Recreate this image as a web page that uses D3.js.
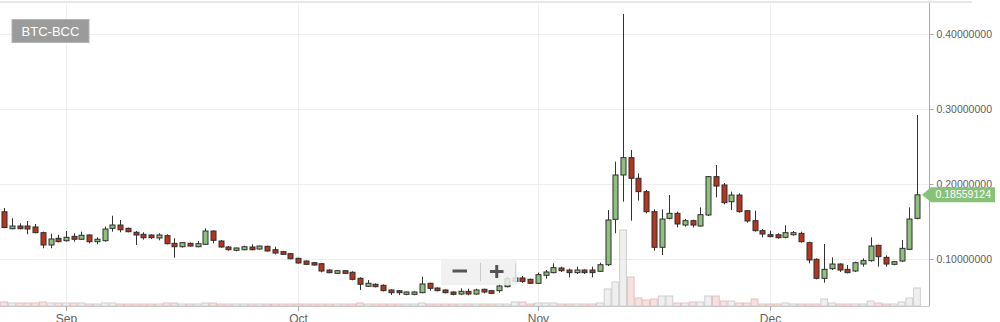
<!DOCTYPE html>
<html>
<head>
<meta charset="utf-8">
<script src="https://cdnjs.cloudflare.com/ajax/libs/d3/7.8.5/d3.min.js"></script>
<style>
  html, body { margin: 0; padding: 0; background: #ffffff; }
  svg { display: block; font-family: "Liberation Sans", Arial, sans-serif; }
</style>
</head>
<body>
<svg id="chart" width="1000" height="322"></svg>
<script>
// ---------- DATA ----------
const pairLabel = "BTC-BCC";
const lastPriceLabel = "0.18559124";
const firstDay = "2017-08-24";
const lastDay = "2017-12-20";
const priceTicks = [0.1, 0.2, 0.3, 0.4];

// daily OHLC, Aug 24 .. Dec 20, 2017
const open = [
  0.163, 0.1404, 0.144, 0.144, 0.1427, 0.1351, 0.1187, 0.1276,
  0.1244, 0.1302, 0.1263, 0.132, 0.1231, 0.1244, 0.1409, 0.1453, 0.1409, 0.1356,
  0.1329, 0.132, 0.128, 0.1311, 0.1209, 0.1164, 0.1209, 0.1164, 0.1196, 0.1373,
  0.124, 0.116, 0.1116, 0.1124, 0.116, 0.1133, 0.1169, 0.1124, 0.1098, 0.1071,
  0.1009, 0.0973, 0.0951, 0.0937, 0.0853, 0.0809, 0.0844, 0.0823, 0.0743, 0.0636,
  0.0663, 0.0649, 0.0587, 0.0577, 0.0529, 0.0529, 0.0551, 0.0676, 0.0613, 0.0587,
  0.056, 0.0533, 0.0569, 0.0533, 0.0596, 0.0578, 0.0578, 0.0631, 0.0702, 0.0747, 0.0729,
  0.0676, 0.0783, 0.0818, 0.088, 0.0853, 0.0818, 0.0853, 0.0853, 0.0836, 0.0924,
  0.1529, 0.212, 0.2351, 0.2076, 0.1898, 0.1631, 0.1156, 0.1542, 0.1609, 0.1453,
  0.1511, 0.144, 0.1587, 0.2098, 0.1987, 0.1764, 0.1853, 0.1644, 0.1511, 0.1378,
  0.1324, 0.1324, 0.1289, 0.1324, 0.1342, 0.1218, 0.0996, 0.0742, 0.0871, 0.0933,
  0.0862, 0.084, 0.0933, 0.0978, 0.1182, 0.1022, 0.0929, 0.0973, 0.1129, 0.1542
];
const high = [
  0.168, 0.1543, 0.1476, 0.1507, 0.1467, 0.1364, 0.1337, 0.1324,
  0.1373, 0.1343, 0.1364, 0.1329, 0.1289, 0.1431, 0.1577, 0.152, 0.1418, 0.1373,
  0.1356, 0.1329, 0.1343, 0.1329, 0.1276, 0.1227, 0.1222, 0.124, 0.1409, 0.1382,
  0.1253, 0.1173, 0.1151, 0.1178, 0.1196, 0.1178, 0.1178, 0.1164, 0.1107, 0.108,
  0.1018, 0.0982, 0.096, 0.0942, 0.0862, 0.0853, 0.0853, 0.0836, 0.0756, 0.072,
  0.0676, 0.0662, 0.0596, 0.0587, 0.0569, 0.0569, 0.0764, 0.0684, 0.0622, 0.0596,
  0.0569, 0.0609, 0.0604, 0.0604, 0.0604, 0.0587, 0.0658, 0.0764, 0.0942, 0.0773, 0.0738,
  0.0818, 0.0853, 0.0942, 0.0898, 0.0871, 0.0898, 0.0862, 0.0898, 0.0951, 0.1653,
  0.2298, 0.4267, 0.2453, 0.2142, 0.192, 0.1662, 0.1662, 0.1853, 0.1631, 0.1533,
  0.1524, 0.1689, 0.2107, 0.2253, 0.2013, 0.1898, 0.1876, 0.1653, 0.1644, 0.1396,
  0.1378, 0.1342, 0.1449, 0.1373, 0.1364, 0.1231, 0.1009, 0.12, 0.1022, 0.0942,
  0.092, 0.0964, 0.1009, 0.1289, 0.1191, 0.1049, 0.0973, 0.1253, 0.1689, 0.292
];
const low = [
  0.141, 0.1396, 0.1396, 0.1329, 0.1343, 0.1143, 0.1143, 0.1222,
  0.1231, 0.1231, 0.1253, 0.1209, 0.1196, 0.1231, 0.1364, 0.1356, 0.1356, 0.1187,
  0.1258, 0.1267, 0.1249, 0.1196, 0.1017, 0.1151, 0.1164, 0.1156, 0.1187, 0.1209,
  0.1151, 0.1111, 0.1102, 0.1116, 0.1116, 0.1124, 0.1098, 0.1062, 0.1053, 0.0996,
  0.0938, 0.092, 0.0911, 0.0822, 0.0809, 0.08, 0.08, 0.0716, 0.0587, 0.0631,
  0.0622, 0.0569, 0.052, 0.052, 0.0516, 0.0516, 0.0543, 0.0578, 0.0569, 0.0542,
  0.0516, 0.052, 0.0516, 0.0524, 0.0542, 0.0533, 0.0551, 0.0622, 0.0693, 0.0684, 0.0667,
  0.0667, 0.0738, 0.0809, 0.0827, 0.0756, 0.08, 0.08, 0.0756, 0.0827, 0.0907,
  0.1343, 0.1764, 0.1511, 0.1778, 0.1609, 0.1111, 0.1053, 0.1529, 0.1422, 0.1431,
  0.1422, 0.1431, 0.1573, 0.1822, 0.1729, 0.1653, 0.1618, 0.1484, 0.1364, 0.1289,
  0.1289, 0.1271, 0.1276, 0.1311, 0.1218, 0.0942, 0.0729, 0.0684, 0.0853, 0.0827,
  0.0809, 0.0827, 0.0898, 0.0964, 0.0898, 0.0898, 0.0916, 0.096, 0.112, 0.1529
];
const close = [
  0.142, 0.144, 0.1404, 0.140, 0.1351, 0.1187, 0.1267, 0.1231,
  0.1289, 0.1263, 0.1316, 0.1231, 0.1263, 0.14, 0.1453, 0.139, 0.1364, 0.132,
  0.1284, 0.1284, 0.132, 0.1204, 0.1164, 0.1218, 0.1173, 0.1204, 0.1373, 0.1249,
  0.116, 0.1124, 0.1147, 0.1164, 0.1124, 0.1173, 0.1107, 0.108, 0.1062, 0.1004,
  0.0947, 0.0929, 0.092, 0.084, 0.0818, 0.0844, 0.0809, 0.0729, 0.0663, 0.0676,
  0.0631, 0.0578, 0.0551, 0.0551, 0.056, 0.056, 0.0667, 0.0609, 0.0578, 0.0551,
  0.0529, 0.0569, 0.0533, 0.0587, 0.056, 0.0542, 0.064, 0.0738, 0.0747, 0.0702, 0.0676,
  0.0791, 0.0827, 0.0884, 0.0844, 0.0818, 0.0853, 0.0818, 0.0818, 0.0924, 0.152,
  0.212, 0.2351, 0.2076, 0.1898, 0.1631, 0.1156, 0.1533, 0.1609, 0.1467, 0.1511,
  0.1453, 0.1591, 0.2098, 0.1973, 0.1751, 0.1853, 0.1631, 0.1507, 0.1378, 0.1333,
  0.1298, 0.1284, 0.1351, 0.1351, 0.1231, 0.0987, 0.0742, 0.0862, 0.0933, 0.0853,
  0.0818, 0.0951, 0.0978, 0.1173, 0.1031, 0.0933, 0.0964, 0.1142, 0.1533, 0.18559124
];
// daily volume (BTC), same days
const volume = [
  40, 30, 30, 30, 30, 40, 30, 30,
  30, 30, 30, 20, 20, 30, 30, 20, 20, 20,
  20, 20, 20, 30, 30, 20, 20, 20, 30, 30,
  20, 20, 20, 20, 20, 20, 20, 20, 20, 20,
  20, 20, 20, 20, 20, 20, 20, 20, 30, 20,
  20, 20, 20, 20, 20, 20, 30, 20, 20, 20,
  20, 20, 20, 20, 20, 20, 20, 20, 40, 40, 20,
  30, 30, 30, 20, 20, 20, 20, 20, 30, 170,
  240, 760, 290, 80, 60, 70, 100, 100, 30, 30,
  40, 40, 100, 100, 50, 50, 30, 30, 70, 20,
  20, 20, 30, 20, 20, 20, 20, 70, 30, 20,
  20, 20, 20, 50, 30, 20, 20, 40, 80, 180
];

// ---------- CHART ----------
const svg = d3.select("#chart");
const plotRight = 929.5;
const plotBottom = 306;
const plotTop = 3;

const parse = d3.utcParse("%Y-%m-%d");
const d0 = parse(firstDay), d1 = parse(lastDay);
const days = d3.utcDay.range(d0, d3.utcDay.offset(d1, 1));
const data = days.map((d, i) => ({
  date: d, o: open[i], h: high[i], l: low[i], c: close[i], v: volume[i]
}));

const x = d3.scaleUtc().domain([d0, d1]).range([4.1, 917]);
const y = d3.scaleLinear().domain([0, 0.4]).range([334, 34]);
const yv = d3.scaleLinear().domain([0, d3.max(volume)]).range([plotBottom, 230]);
const step = x(d3.utcDay.offset(d0, 1)) - x(d0);
const monthTicks = d3.utcMonth.range(d0, d1);

const upFill = "#8fc07c", downFill = "#b5361c", edge = "#2e2e2e";

// top border
svg.append("line").attr("x1", 0).attr("x2", 972).attr("y1", 2).attr("y2", 2)
  .attr("stroke", "#e6e6e6").attr("stroke-width", 2);

// grid
const grid = svg.append("g");
grid.selectAll(".hg").data(priceTicks).join("line")
  .attr("x1", 0).attr("x2", plotRight)
  .attr("y1", d => Math.round(y(d)) + 0.5).attr("y2", d => Math.round(y(d)) + 0.5)
  .attr("stroke", "#eeeeee");
grid.selectAll(".vg").data(monthTicks).join("line")
  .attr("x1", d => Math.round(x(d)) + 0.5).attr("x2", d => Math.round(x(d)) + 0.5)
  .attr("y1", plotTop).attr("y2", plotBottom)
  .attr("stroke", "#f0f0f0");

// volume
svg.append("g").selectAll("rect").data(data).join("rect")
  .attr("x", d => x(d.date) - step / 2 + 0.5)
  .attr("width", step - 1)
  .attr("y", d => yv(d.v))
  .attr("height", d => plotBottom - yv(d.v))
  .attr("fill", d => d.c >= d.o ? "rgba(225,225,225,0.55)" : "rgba(238,196,196,0.5)")
  .attr("stroke", d => d.c >= d.o ? "#cfcfcf" : "#e6c0c0")
  .attr("stroke-width", 1);

// baseline
svg.append("line").attr("x1", 0).attr("x2", plotRight)
  .attr("y1", plotBottom + 0.5).attr("y2", plotBottom + 0.5)
  .attr("stroke", "#c8c8c8");

// candles
const candles = svg.append("g");
candles.selectAll("line").data(data).join("line")
  .attr("x1", d => Math.round(x(d.date)) + 0.5).attr("x2", d => Math.round(x(d.date)) + 0.5)
  .attr("y1", d => y(d.h)).attr("y2", d => y(d.l))
  .attr("stroke", "#333").attr("stroke-width", 1);
const bw = 5;
candles.selectAll("rect").data(data).join("rect")
  .attr("x", d => Math.round(x(d.date)) + 0.5 - bw / 2)
  .attr("width", bw)
  .attr("y", d => y(Math.max(d.o, d.c)))
  .attr("height", d => Math.max(1.5, Math.abs(y(d.o) - y(d.c))))
  .attr("fill", d => d.c >= d.o ? upFill : downFill)
  .attr("stroke", edge).attr("stroke-width", 1);

// zoom control
const zc = svg.append("g");
zc.append("rect").attr("x", 441).attr("y", 259).attr("width", 76).attr("height", 26)
  .attr("fill", "rgba(238,238,238,0.85)");
zc.append("line").attr("x1", 480.5).attr("x2", 480.5).attr("y1", 263).attr("y2", 281)
  .attr("stroke", "#c8c8c8");
zc.append("path").attr("d", "M452.5,271H467").attr("stroke", "#555").attr("stroke-width", 3);
zc.append("path").attr("d", "M490,271.5H503.5M496.75,265V278").attr("stroke", "#555").attr("stroke-width", 3);

// y axis (right)
svg.append("line").attr("x1", plotRight).attr("x2", plotRight)
  .attr("y1", plotTop).attr("y2", plotBottom).attr("stroke", "#a8a8a8");
const yAxis = svg.append("g").attr("transform", `translate(${plotRight},0)`)
  .call(d3.axisRight(y).tickValues(priceTicks).tickFormat(d3.format(".8f")).tickSize(4).tickPadding(3));
yAxis.select(".domain").remove();
yAxis.selectAll(".tick line").attr("stroke", "#a8a8a8");
yAxis.selectAll(".tick text").attr("fill", "#606060").style("font-size", "10.5px")
  .style("font-family", "'Liberation Sans', Arial, sans-serif");

// x axis
const xAxis = svg.append("g").attr("transform", `translate(0,${plotBottom})`)
  .call(d3.axisBottom(x).tickValues(monthTicks).tickFormat(d3.utcFormat("%b")).tickSize(5).tickPadding(3));
xAxis.select(".domain").remove();
xAxis.selectAll(".tick line").attr("stroke", "#a8a8a8");
xAxis.selectAll(".tick text").attr("fill", "#606060").style("font-size", "12px")
  .style("font-family", "'Liberation Sans', Arial, sans-serif");

// last price tag
const yl = y(close[close.length - 1]);
const tag = svg.append("g");
tag.append("path")
  .attr("d", `M922,${yl} L931,${yl - 7.5} H995 V${yl + 7.5} H931 Z`)
  .attr("fill", "#88c278");
tag.append("text").attr("x", 935.5).attr("y", yl).attr("dy", "0.35em")
  .attr("fill", "#ffffff").style("font-size", "10.5px").text(lastPriceLabel);

// pair label
const lab = svg.append("g");
lab.append("rect").attr("x", 12).attr("y", 19.5).attr("width", 77).attr("height", 23)
  .attr("fill", "#9b9b9b").attr("stroke", "#b4b4b4");
lab.append("text").attr("x", 50.5).attr("y", 31).attr("dy", "0.36em")
  .attr("text-anchor", "middle").attr("fill", "#ffffff").style("font-size", "13px")
  .text(pairLabel);
</script>
</body>
</html>
